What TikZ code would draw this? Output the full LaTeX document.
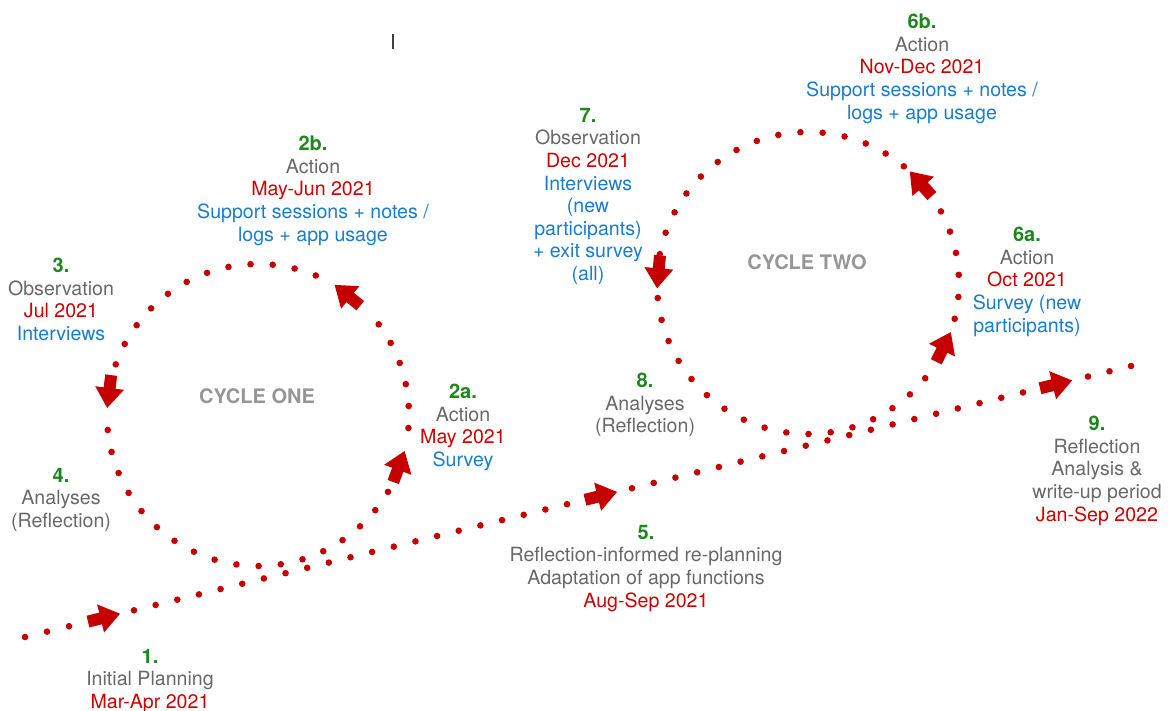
\documentclass[tikz,border=0pt]{standalone}
\usepackage{fontspec}
\setmainfont{TeX Gyre Heros}
\usetikzlibrary{calc}

\definecolor{pathred}{RGB}{196,0,0}
\definecolor{numgreen}{RGB}{28,135,28}
\definecolor{labelgray}{RGB}{104,104,104}
\definecolor{labelred}{RGB}{206,0,0}
\definecolor{labelblue}{RGB}{25,125,205}
\definecolor{cyclegray}{RGB}{150,150,150}

\newcommand{\stepno}[1]{{\fontsize{20}{22.6}\selectfont\bfseries\color{numgreen}#1}}
\newcommand{\ingray}[1]{\textcolor{labelgray}{#1}}
\newcommand{\inred}[1]{\textcolor{labelred}{#1}}
\newcommand{\inblue}[1]{\textcolor{labelblue}{#1}}

\begin{document}
\begin{tikzpicture}[x=1pt,y=-1pt,
  pathdot/.style={fill=pathred},
  steplabel/.style={align=center,anchor=north,inner sep=0pt,
    font=\fontsize{19.6}{22.6}\selectfont},
  cyclelabel/.style={font=\fontsize{20}{24}\selectfont\bfseries,
    text=cyclegray,inner sep=0pt},
  blockarrow/.pic={\fill[pathred] (0,0) -- (-20,-14.5) -- (-20,-6) -- (-33,-6)
    -- (-33,6) -- (-20,6) -- (-20,14.5) -- cycle;}
]
\useasboundingbox (0,0) rectangle (1175,711);

% main timeline and the centres of the two cycles
\coordinate (m0) at (25,637);
\coordinate (m1) at (1131,366);
\coordinate (c1) at (258,415);
\coordinate (c2) at (808,283);

% dotted main timeline, in runs between the arrows (start x / intervals / step)
\foreach \sx/\n/\d in {25/2/22, 134/20/21.65, 632/18/21.72, 1088/2/21.5}{
  \foreach \k in {0,...,\n}{
    \fill[pathdot] ($(m0)!{(\sx+\k*\d-25)/1106}!(m1)$) circle[radius=3.3];
  }
}
% arrows on the main timeline
\foreach \t in {0.0859,0.5353,0.9467}{
  \pic[rotate=13.77] at ($(m0)!\t!(m1)$) {blockarrow};
}

% cycle one: dotted circle in runs (start angle / intervals / step)
\foreach \s/\n/\d in {-4.95/5/8.37, 67.5/11/8.445, 185.7/17/8.453}{
  \foreach \k in {0,...,\n}{
    \fill[pathdot] ($(c1)+({-(\s+\k*\d)}:151)$) circle[radius=3.3];
  }
}
\pic[rotate=69.8] at ($(c1)+(13.8:151)$) {blockarrow};
\pic[rotate=141] at ($(c1)+(-59.5:151)$) {blockarrow};
\pic[rotate=263] at ($(c1)+(-177.3:151)$) {blockarrow};

% cycle two
\foreach \s/\n/\d in {-13.7/5/8.4, 50.6/14/8.457, 185.7/16/8.45}{
  \foreach \k in {0,...,\n}{
    \fill[pathdot] ($(c2)+({-(\s+\k*\d)}:151)$) circle[radius=3.3];
  }
}
\pic[rotate=64] at ($(c2)+(19:151)$) {blockarrow};
\pic[rotate=132] at ($(c2)+(-47.6:151)$) {blockarrow};
\pic[rotate=265] at ($(c2)+(-182:151)$) {blockarrow};

% cycle titles
\node[cyclelabel] (cycone) at (257,396) {CYCLE ONE};
\node[cyclelabel] (cyctwo) at (807,262) {CYCLE TWO};

% step labels
\node[steplabel] (s1) at (150,649)
  {\stepno{1.}\\\ingray{Initial Planning}\\\inred{Mar-Apr 2021}};
\node[steplabel] (s2a) at (463,384)
  {\stepno{2a.}\\\ingray{Action}\\\inred{May 2021}\\\inblue{Survey}};
\node[steplabel] (s2b) at (313,136)
  {\stepno{2b.}\\\ingray{Action}\\\inred{May-Jun 2021}\\
   \inblue{Support sessions + notes /}\\\inblue{logs + app usage}};
\node[steplabel] (s3) at (61,258)
  {\stepno{3.}\\\ingray{Observation}\\\inred{Jul 2021}\\\inblue{Interviews}};
\node[steplabel] (s4) at (61,468)
  {\stepno{4.}\\\ingray{Analyses}\\\ingray{(Reflection)}};
\node[steplabel] (s5) at (646,525)
  {\stepno{5.}\\\ingray{Reflection-informed re-planning}\\
   \ingray{Adaptation of app functions}\\\inred{Aug-Sep 2021}};
\node[steplabel] (s6a) at (1027,227)
  {\stepno{6a.}\\\ingray{Action}\\\inred{Oct 2021}\\
   \inblue{Survey (new}\\\inblue{participants)}};
\node[steplabel] (s6b) at (922,14)
  {\stepno{6b.}\\\ingray{Action}\\\inred{Nov-Dec 2021}\\
   \inblue{Support sessions + notes /}\\\inblue{logs + app usage}};
\node[steplabel] (s7) at (588,108)
  {\stepno{7.}\\\ingray{Observation}\\\inred{Dec 2021}\\\inblue{Interviews}\\
   \inblue{(new}\\\inblue{participants)}\\\inblue{+ exit survey}\\\inblue{(all)}};
\node[steplabel] (s8) at (645,373)
  {\stepno{8.}\\\ingray{Analyses}\\\ingray{(Reflection)}};
\node[steplabel] (s9) at (1097,416)
  {\stepno{9.}\\\ingray{Reflection}\\\ingray{Analysis \&}\\
   \ingray{write-up period}\\\inred{Jan-Sep 2022}};

% text cursor mark
\coordinate (k0) at (393,34);
\coordinate (k1) at (393,49);
\draw[line width=1.3pt,black!75] (k0) -- (k1);
\end{tikzpicture}
\end{document}
